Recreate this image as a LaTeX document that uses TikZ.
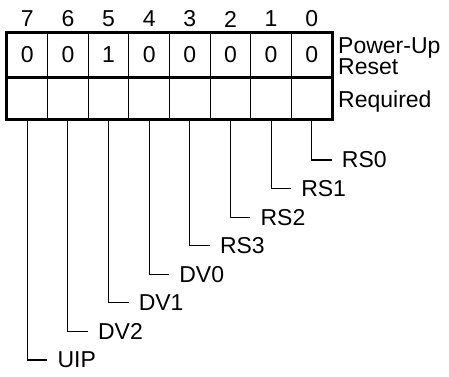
\documentclass[tikz,border=0pt]{standalone}
\usepackage{fontspec}
\setmainfont{Liberation Sans}
\usetikzlibrary{positioning}

\begin{document}
\begin{tikzpicture}[
  x=1pt, y=-1pt,
  bitnum/.style={inner sep=0pt, font=\fontsize{23}{26}\selectfont},
  cell/.style={draw, line width=1.1pt, minimum width=40.625pt, inner sep=0pt,
    font=\fontsize{23}{26}\selectfont},
  rowlabel/.style={anchor=west, align=left, inner sep=0pt,
    font=\fontsize{23}{26}\selectfont},
  sig/.style={inner sep=0pt, font=\fontsize{23}{26}\selectfont},
  lead/.style={line width=1.1pt},
  frame/.style={line width=3pt}
]
\useasboundingbox (0,0) rectangle (449,376);

\foreach \i/\v/\s in {7/0/UIP, 6/0/DV2, 5/1/DV1, 4/0/DV0, 3/0/RS3, 2/0/RS2, 1/0/RS1, 0/0/RS0} {
  \node[cell, minimum height=44pt] (v\i) at ({7+40.625*(7-\i+0.5)}, 55) {\v};
  \node[cell, minimum height=41pt, below=0pt of v\i] (r\i) {};
  \node[bitnum] (b\i) at ({7+40.625*(7-\i+0.5)}, 19) {\i};
  \coordinate (k\i) at ({7+40.625*(7-\i+0.5)+20}, {160+200/7*\i});
  \draw[lead] (r\i.south) |- (k\i);
  \node[sig, right=10pt of k\i] (s\i) {\s};
}

\draw[frame] (v7.north west) rectangle (r0.south east);
\draw[frame] (r7.north west) -- (r0.north east);

\node[rowlabel] (pwr) at (338, 56) {Power-Up\\[-5pt]Reset};
\node[rowlabel] (req) at (338, 102) {Required};
\end{tikzpicture}
\end{document}
